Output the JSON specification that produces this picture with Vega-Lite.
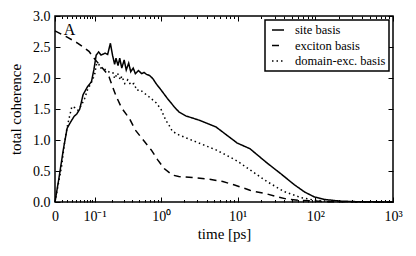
{
  "$schema": "https://vega.github.io/schema/vega-lite/v6.json",
  "width": 338,
  "height": 186,
  "autosize": {"type": "none"},
  "padding": {"left": 55, "top": 16, "right": 23, "bottom": 54},
  "config": {
    "font": "Liberation Serif",
    "view": {"stroke": "black", "strokeWidth": 1.5},
    "text": {"font": "Liberation Serif"},
    "style": {"guide-label": {"font": "Liberation Serif"}, "guide-title": {"font": "Liberation Serif"}},
    "axis": {"grid": false, "domain": false, "labelFont": "Liberation Serif", "titleFont": "Liberation Serif", "labelColor": "black", "titleColor": "black", "tickColor": "black", "labelFontSize": 14, "titleFontSize": 15, "titleFontWeight": "normal", "labelFlush": false},
    "legend": {"orient": "top-right", "offset": 4, "fillColor": "white", "strokeColor": "black", "strokeWidth": 1.5, "padding": 3, "labelFont": "Liberation Serif", "labelFontSize": 12.5, "labelColor": "black", "symbolType": "stroke", "symbolStrokeColor": "black", "symbolStrokeWidth": 1.5, "symbolSize": 144, "symbolOffset": 3, "labelOffset": 10, "rowPadding": 1.5}
  },
  "data": {"values": [
    {"basis": "site basis", "t": 0, "v": 0},
    {"basis": "site basis", "t": 0.0058, "v": 0.40},
    {"basis": "site basis", "t": 0.0125, "v": 0.84},
    {"basis": "site basis", "t": 0.0195, "v": 1.19},
    {"basis": "site basis", "t": 0.0242, "v": 1.26},
    {"basis": "site basis", "t": 0.0341, "v": 1.38},
    {"basis": "site basis", "t": 0.0408, "v": 1.42},
    {"basis": "site basis", "t": 0.0487, "v": 1.50},
    {"basis": "site basis", "t": 0.0583, "v": 1.73},
    {"basis": "site basis", "t": 0.0729, "v": 1.86},
    {"basis": "site basis", "t": 0.0875, "v": 1.94},
    {"basis": "site basis", "t": 0.0971, "v": 2.13},
    {"basis": "site basis", "t": 0.1075, "v": 2.37},
    {"basis": "site basis", "t": 0.119, "v": 2.42},
    {"basis": "site basis", "t": 0.131, "v": 2.37},
    {"basis": "site basis", "t": 0.153, "v": 2.40},
    {"basis": "site basis", "t": 0.169, "v": 2.38},
    {"basis": "site basis", "t": 0.187, "v": 2.56},
    {"basis": "site basis", "t": 0.203, "v": 2.36},
    {"basis": "site basis", "t": 0.218, "v": 2.22},
    {"basis": "site basis", "t": 0.229, "v": 2.32},
    {"basis": "site basis", "t": 0.246, "v": 2.20},
    {"basis": "site basis", "t": 0.261, "v": 2.32},
    {"basis": "site basis", "t": 0.280, "v": 2.16},
    {"basis": "site basis", "t": 0.304, "v": 2.29},
    {"basis": "site basis", "t": 0.326, "v": 2.13},
    {"basis": "site basis", "t": 0.354, "v": 2.24},
    {"basis": "site basis", "t": 0.379, "v": 2.10},
    {"basis": "site basis", "t": 0.411, "v": 2.16},
    {"basis": "site basis", "t": 0.441, "v": 2.07},
    {"basis": "site basis", "t": 0.489, "v": 2.12},
    {"basis": "site basis", "t": 0.541, "v": 2.07},
    {"basis": "site basis", "t": 0.583, "v": 2.09},
    {"basis": "site basis", "t": 0.629, "v": 2.06},
    {"basis": "site basis", "t": 0.695, "v": 2.04},
    {"basis": "site basis", "t": 0.771, "v": 1.99},
    {"basis": "site basis", "t": 0.852, "v": 1.91},
    {"basis": "site basis", "t": 0.991, "v": 1.81},
    {"basis": "site basis", "t": 1.21, "v": 1.67},
    {"basis": "site basis", "t": 1.48, "v": 1.54},
    {"basis": "site basis", "t": 1.73, "v": 1.45},
    {"basis": "site basis", "t": 2.11, "v": 1.39},
    {"basis": "site basis", "t": 3.16, "v": 1.32},
    {"basis": "site basis", "t": 5.25, "v": 1.21},
    {"basis": "site basis", "t": 9.9, "v": 0.95},
    {"basis": "site basis", "t": 14.4, "v": 0.86},
    {"basis": "site basis", "t": 23.9, "v": 0.63},
    {"basis": "site basis", "t": 35.7, "v": 0.46},
    {"basis": "site basis", "t": 53.6, "v": 0.28},
    {"basis": "site basis", "t": 73.2, "v": 0.16},
    {"basis": "site basis", "t": 98, "v": 0.08},
    {"basis": "site basis", "t": 133, "v": 0.04},
    {"basis": "site basis", "t": 205, "v": 0.015},
    {"basis": "site basis", "t": 343, "v": 0.005},
    {"basis": "site basis", "t": 1000, "v": 0},
    {"basis": "exciton basis", "t": 0, "v": 2.76},
    {"basis": "exciton basis", "t": 0.0195, "v": 2.66},
    {"basis": "exciton basis", "t": 0.0437, "v": 2.56},
    {"basis": "exciton basis", "t": 0.078, "v": 2.43},
    {"basis": "exciton basis", "t": 0.102, "v": 2.30},
    {"basis": "exciton basis", "t": 0.138, "v": 2.16},
    {"basis": "exciton basis", "t": 0.156, "v": 2.10},
    {"basis": "exciton basis", "t": 0.178, "v": 2.02},
    {"basis": "exciton basis", "t": 0.199, "v": 1.88},
    {"basis": "exciton basis", "t": 0.2315, "v": 1.70},
    {"basis": "exciton basis", "t": 0.2776, "v": 1.52},
    {"basis": "exciton basis", "t": 0.361, "v": 1.35},
    {"basis": "exciton basis", "t": 0.441, "v": 1.16},
    {"basis": "exciton basis", "t": 0.569, "v": 1.00},
    {"basis": "exciton basis", "t": 0.733, "v": 0.84},
    {"basis": "exciton basis", "t": 0.897, "v": 0.68},
    {"basis": "exciton basis", "t": 1.095, "v": 0.54},
    {"basis": "exciton basis", "t": 1.41, "v": 0.435},
    {"basis": "exciton basis", "t": 1.71, "v": 0.41},
    {"basis": "exciton basis", "t": 2.59, "v": 0.395},
    {"basis": "exciton basis", "t": 4.25, "v": 0.37},
    {"basis": "exciton basis", "t": 6.43, "v": 0.33},
    {"basis": "exciton basis", "t": 9.33, "v": 0.27},
    {"basis": "exciton basis", "t": 14.4, "v": 0.19},
    {"basis": "exciton basis", "t": 16.6, "v": 0.17},
    {"basis": "exciton basis", "t": 23.9, "v": 0.13},
    {"basis": "exciton basis", "t": 32.3, "v": 0.085},
    {"basis": "exciton basis", "t": 43.7, "v": 0.045},
    {"basis": "exciton basis", "t": 64.8, "v": 0.025},
    {"basis": "exciton basis", "t": 100, "v": 0.015},
    {"basis": "exciton basis", "t": 147, "v": 0.005},
    {"basis": "exciton basis", "t": 1000, "v": 0},
    {"basis": "domain-exc. basis", "t": 0, "v": 0},
    {"basis": "domain-exc. basis", "t": 0.0096, "v": 0.57},
    {"basis": "domain-exc. basis", "t": 0.0146, "v": 0.95},
    {"basis": "domain-exc. basis", "t": 0.0195, "v": 1.21},
    {"basis": "domain-exc. basis", "t": 0.0242, "v": 1.38},
    {"basis": "domain-exc. basis", "t": 0.0292, "v": 1.54},
    {"basis": "domain-exc. basis", "t": 0.0364, "v": 1.52},
    {"basis": "domain-exc. basis", "t": 0.0437, "v": 1.48},
    {"basis": "domain-exc. basis", "t": 0.0534, "v": 1.56},
    {"basis": "domain-exc. basis", "t": 0.0633, "v": 1.67},
    {"basis": "domain-exc. basis", "t": 0.0729, "v": 1.81},
    {"basis": "domain-exc. basis", "t": 0.0825, "v": 1.89},
    {"basis": "domain-exc. basis", "t": 0.0924, "v": 1.97},
    {"basis": "domain-exc. basis", "t": 0.102, "v": 2.08},
    {"basis": "domain-exc. basis", "t": 0.1075, "v": 2.21},
    {"basis": "domain-exc. basis", "t": 0.119, "v": 2.24},
    {"basis": "domain-exc. basis", "t": 0.125, "v": 2.16},
    {"basis": "domain-exc. basis", "t": 0.138, "v": 2.16},
    {"basis": "domain-exc. basis", "t": 0.161, "v": 2.13},
    {"basis": "domain-exc. basis", "t": 0.187, "v": 2.08},
    {"basis": "domain-exc. basis", "t": 0.207, "v": 2.08},
    {"basis": "domain-exc. basis", "t": 0.218, "v": 1.99},
    {"basis": "domain-exc. basis", "t": 0.241, "v": 2.08},
    {"basis": "domain-exc. basis", "t": 0.267, "v": 1.97},
    {"basis": "domain-exc. basis", "t": 0.280, "v": 2.03},
    {"basis": "domain-exc. basis", "t": 0.311, "v": 1.91},
    {"basis": "domain-exc. basis", "t": 0.343, "v": 1.97},
    {"basis": "domain-exc. basis", "t": 0.379, "v": 1.89},
    {"basis": "domain-exc. basis", "t": 0.420, "v": 1.91},
    {"basis": "domain-exc. basis", "t": 0.465, "v": 1.80},
    {"basis": "domain-exc. basis", "t": 0.513, "v": 1.81},
    {"basis": "domain-exc. basis", "t": 0.597, "v": 1.75},
    {"basis": "domain-exc. basis", "t": 0.695, "v": 1.69},
    {"basis": "domain-exc. basis", "t": 0.852, "v": 1.60},
    {"basis": "domain-exc. basis", "t": 0.991, "v": 1.50},
    {"basis": "domain-exc. basis", "t": 1.15, "v": 1.32},
    {"basis": "domain-exc. basis", "t": 1.27, "v": 1.24},
    {"basis": "domain-exc. basis", "t": 1.41, "v": 1.14},
    {"basis": "domain-exc. basis", "t": 1.73, "v": 1.08},
    {"basis": "domain-exc. basis", "t": 3.16, "v": 0.95},
    {"basis": "domain-exc. basis", "t": 5.25, "v": 0.84},
    {"basis": "domain-exc. basis", "t": 8.7, "v": 0.70},
    {"basis": "domain-exc. basis", "t": 9.9, "v": 0.66},
    {"basis": "domain-exc. basis", "t": 14.4, "v": 0.52},
    {"basis": "domain-exc. basis", "t": 23.9, "v": 0.33},
    {"basis": "domain-exc. basis", "t": 39.5, "v": 0.17},
    {"basis": "domain-exc. basis", "t": 65.5, "v": 0.07},
    {"basis": "domain-exc. basis", "t": 98, "v": 0.03},
    {"basis": "domain-exc. basis", "t": 147, "v": 0.01},
    {"basis": "domain-exc. basis", "t": 368, "v": 0},
    {"basis": "domain-exc. basis", "t": 1000, "v": 0}
  ]},
  "layer": [
    {
      "mark": {"type": "line", "color": "black", "strokeWidth": 1.5},
      "encoding": {
        "x": {"field": "t", "type": "quantitative",
          "scale": {"type": "symlog", "constant": 0.045, "domain": [0, 1000], "nice": false},
          "axis": {"orient": "bottom", "values": [0, 0.1, 1, 10, 100, 1000], "ticks": false, "labelPadding": 7,
            "labelFont": "Liberation Serif", "titleFont": "Liberation Serif",
            "labelExpr": "datum.value == 0 ? '0' : datum.value == 0.1 ? '10⁻¹' : datum.value == 1 ? '10⁰' : datum.value == 10 ? '10¹' : datum.value == 100 ? '10²' : '10³'",
            "title": "time [ps]", "titlePadding": 3}},
        "y": {"field": "v", "type": "quantitative",
          "scale": {"domain": [0, 3], "nice": false},
          "axis": {"orient": "left", "values": [0, 0.5, 1, 1.5, 2, 2.5, 3], "format": ".1f", "ticks": false, "labelPadding": 5,
            "labelFont": "Liberation Serif", "titleFont": "Liberation Serif",
            "title": "total coherence", "titlePadding": 9}},
        "strokeDash": {"field": "basis", "type": "nominal",
          "scale": {"domain": ["site basis", "exciton basis", "domain-exc. basis"], "range": [[1, 0], [7, 5], [1.5, 3]]},
          "legend": {"title": null, "labelFont": "Liberation Serif"}}
      }
    },
    {
      "mark": {"type": "point", "opacity": 0},
      "encoding": {
        "x": {"field": "t", "type": "quantitative", "axis": {"orient": "bottom", "values": [0, 0.1, 1, 10, 100, 1000], "labels": false, "title": null, "tickSize": -5, "tickWidth": 1}},
        "y": {"field": "v", "type": "quantitative", "axis": {"orient": "left", "values": [0, 0.5, 1, 1.5, 2, 2.5, 3], "labels": false, "title": null, "tickSize": -5, "tickWidth": 1}}
      }
    },
    {
      "mark": {"type": "point", "opacity": 0},
      "encoding": {
        "x": {"field": "t", "type": "quantitative", "axis": {"orient": "top", "values": [0, 0.1, 1, 10, 100, 1000], "labels": false, "title": null, "tickSize": -5, "tickWidth": 1}},
        "y": {"field": "v", "type": "quantitative", "axis": {"orient": "right", "values": [0, 0.5, 1, 1.5, 2, 2.5, 3], "labels": false, "title": null, "tickSize": -5, "tickWidth": 1}}
      }
    },
    {
      "mark": {"type": "point", "opacity": 0},
      "encoding": {
        "x": {"field": "t", "type": "quantitative", "axis": {"orient": "bottom", "values": [0.01, 0.02, 0.03, 0.04, 0.05, 0.06, 0.07, 0.08, 0.09, 0.2, 0.3, 0.4, 0.5, 0.6, 0.7, 0.8, 0.9, 2, 3, 4, 5, 6, 7, 8, 9, 20, 30, 40, 50, 60, 70, 80, 90, 200, 300, 400, 500, 600, 700, 800, 900], "labels": false, "title": null, "tickSize": -2.5, "tickWidth": 1}},
        "y": {"field": "v", "type": "quantitative", "axis": null}
      }
    },
    {
      "mark": {"type": "point", "opacity": 0},
      "encoding": {
        "x": {"field": "t", "type": "quantitative", "axis": {"orient": "top", "values": [0.01, 0.02, 0.03, 0.04, 0.05, 0.06, 0.07, 0.08, 0.09, 0.2, 0.3, 0.4, 0.5, 0.6, 0.7, 0.8, 0.9, 2, 3, 4, 5, 6, 7, 8, 9, 20, 30, 40, 50, 60, 70, 80, 90, 200, 300, 400, 500, 600, 700, 800, 900], "labels": false, "title": null, "tickSize": -2.5, "tickWidth": 1}},
        "y": {"field": "v", "type": "quantitative", "axis": null}
      }
    },
    {
      "data": {"values": [{"t": 0.024, "v": 2.77, "label": "A"}]},
      "mark": {"type": "text", "font": "Liberation Serif", "fontSize": 16, "color": "black", "align": "center", "baseline": "middle"},
      "encoding": {
        "x": {"field": "t", "type": "quantitative", "axis": null},
        "y": {"field": "v", "type": "quantitative", "axis": null},
        "text": {"field": "label"}
      }
    }
  ],
  "resolve": {"axis": {"x": "independent", "y": "independent"}}
}
